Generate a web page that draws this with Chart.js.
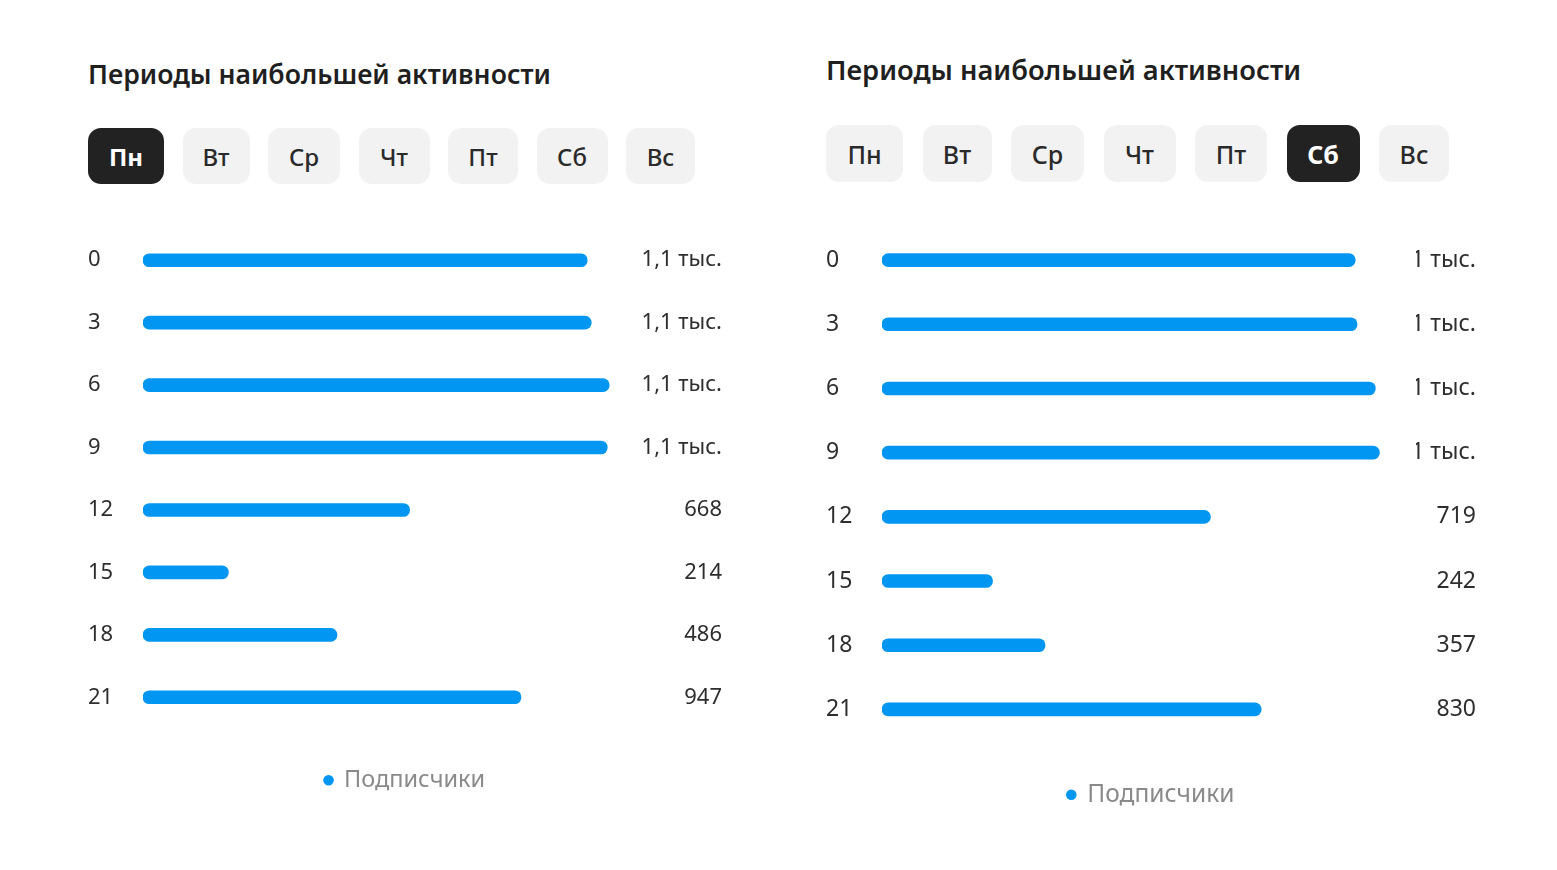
<!DOCTYPE html>
<html lang="ru">
<head>
<meta charset="utf-8">
<title>Периоды наибольшей активности</title>
<script src="https://cdn.jsdelivr.net/npm/chart.js@4.4.1/dist/chart.umd.min.js"></script>
<style>
  html, body { margin: 0; padding: 0; background: #fff; }
  body { width: 1557px; height: 870px; position: relative; overflow: hidden; font-family: "Noto Sans", "Open Sans", sans-serif; color: #222; }
  .title { position: absolute; font-weight: 600; line-height: 1; white-space: nowrap; color: #1f1f1f; }
  .days { position: absolute; display: flex; }
  .day { display: flex; align-items: center; justify-content: center; background: #f2f2f3; border-radius: 13px; color: #2a2a2a; font-weight: 500; }
  .day.active { background: #222; color: #fff; font-weight: 700; }
  .chart-box { position: absolute; }
</style>
</head>
<body>

<div class="title" id="title1" style="left:88px; top:61px; font-size:26.6px;"></div>
<div class="days" id="days1" style="left:88px; top:128px;"></div>
<div class="chart-box" style="left:88px; top:229px; width:634px; height:573px;"><canvas id="chart1"></canvas></div>

<div class="title" id="title2" style="left:826px; top:56px; font-size:27.3px;"></div>
<div class="days" id="days2" style="left:826px; top:125px;"></div>
<div class="chart-box" style="left:826px; top:228px; width:650px; height:589px;"><canvas id="chart2"></canvas></div>

<script>
// Data
const chartTitle = 'Периоды наибольшей активности';
const days = ['Пн', 'Вт', 'Ср', 'Чт', 'Пт', 'Сб', 'Вс'];
const hours = ['0', '3', '6', '9', '12', '15', '18', '21'];
const seriesLabel = 'Подписчики';
const mondayValues = [1113, 1123, 1168, 1163, 668, 214, 486, 947];
const saturdayValues = [1036, 1040, 1080, 1089, 719, 242, 357, 830];

const barColor = '#0096f2';
const textColor = '#2e2e2e';

// 1 086 -> "1 тыс.", 1 168 -> "1,1 тыс."
function formatValue(v) {
    if (v < 1000) return String(v);
    const k = Math.floor(v / 100) / 10;
    return String(k).replace('.', ',') + ' тыс.';
}

function buildHeader(titleId, daysId, activeDay, widths, height, gap, fontSize) {
    document.getElementById(titleId).textContent = chartTitle;
    const wrap = document.getElementById(daysId);
    wrap.style.gap = gap + 'px';
    days.forEach((d, i) => {
        const el = document.createElement('div');
        el.className = 'day' + (d === activeDay ? ' active' : '');
        el.textContent = d;
        el.style.width = widths[i] + 'px';
        el.style.height = height + 'px';
        el.style.fontSize = fontSize + 'px';
        wrap.appendChild(el);
    });
}

// fixed axis width, no extra top/bottom padding from tick labels
function fixAxis(width) {
    return scale => {
        scale.width = width;
        scale.paddingTop = 0;
        scale.paddingBottom = 0;
    };
}

function createActivityChart(canvasId, values, cfg) {
    const ctx = document.getElementById(canvasId);
    if (!ctx) return null;

    return new Chart(ctx, {
        type: 'bar',
        data: {
            labels: hours,
            datasets: [{
                label: seriesLabel,
                data: values,
                backgroundColor: barColor,
                borderColor: barColor,
                borderWidth: 0,
                borderRadius: 20,
                borderSkipped: false,
                barThickness: cfg.barThickness
            }]
        },
        options: {
            indexAxis: 'y',
            responsive: true,
            maintainAspectRatio: false,
            animation: false,
            layout: { padding: 0 },
            scales: {
                x: {
                    display: false,
                    min: 0,
                    max: cfg.xMax
                },
                y: {
                    grid: { display: false, drawTicks: false },
                    border: { display: false },
                    ticks: {
                        color: textColor,
                        font: { family: 'Noto Sans', size: cfg.fontSize },
                        crossAlign: 'far',
                        padding: 0
                    },
                    afterFit: fixAxis(cfg.leftWidth)
                },
                y2: {
                    type: 'category',
                    position: 'right',
                    labels: values.map(formatValue),
                    offset: true,
                    grid: { display: false, drawTicks: false },
                    border: { display: false },
                    ticks: {
                        color: textColor,
                        font: { family: 'Noto Sans', size: cfg.fontSize },
                        crossAlign: 'far',
                        padding: 0
                    },
                    afterFit: fixAxis(cfg.rightWidth)
                }
            },
            plugins: {
                legend: {
                    position: 'bottom',
                    labels: {
                        usePointStyle: true,
                        pointStyle: 'circle',
                        boxWidth: 7.5,
                        boxHeight: 7.5,
                        padding: cfg.legendPad,
                        color: '#8a8a8a',
                        font: { family: 'Noto Sans', size: cfg.legendSize }
                    }
                },
                tooltip: { enabled: false }
            }
        }
    });
}

buildHeader('title1', 'days1', 'Пн', [76, 67, 72, 71, 70, 71, 69], 56, 18.5, 24);
buildHeader('title2', 'days2', 'Сб', [77, 69, 73, 72, 72, 73, 70], 57, 19.5, 25);

createActivityChart('chart1', mondayValues, {
    xMax: 1200, fontSize: 22, leftWidth: 55, rightWidth: 100,
    barThickness: 13, legendPad: 40, legendSize: 23.5
});
createActivityChart('chart2', saturdayValues, {
    xMax: 1169, fontSize: 23, leftWidth: 56, rightWidth: 60,
    barThickness: 13, legendPad: 41, legendSize: 24.5
});
</script>
</body>
</html>
